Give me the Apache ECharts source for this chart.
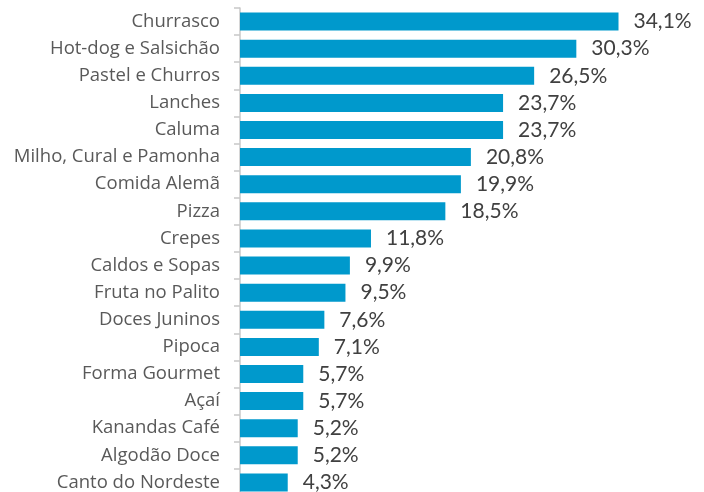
<!DOCTYPE html>
<html>
<head>
<meta charset="utf-8">
<script src="https://cdn.jsdelivr.net/npm/echarts@6/dist/echarts.min.js"></script>
<style>
  html, body { margin: 0; padding: 0; background: #fff; }
  #chart { width: 704px; height: 492px; }
</style>
</head>
<body>
<div id="chart"></div>
<script>
var categories = ['Churrasco', 'Hot-dog e Salsichão', 'Pastel e Churros', 'Lanches', 'Caluma',
  'Milho, Cural e Pamonha', 'Comida Alemã', 'Pizza', 'Crepes', 'Caldos e Sopas',
  'Fruta no Palito', 'Doces Juninos', 'Pipoca', 'Forma Gourmet', 'Açaí',
  'Kanandas Café', 'Algodão Doce', 'Canto do Nordeste'];
var values = [34.1, 30.3, 26.5, 23.7, 23.7, 20.8, 19.9, 18.5, 11.8, 9.9,
  9.5, 7.6, 7.1, 5.7, 5.7, 5.2, 5.2, 4.3];

var chart = echarts.init(document.getElementById('chart'));
var option = {
  animation: false,
  grid: { left: 240, right: 20, top: 8, height: 488, outerBoundsMode: 'none' },
  xAxis: {
    type: 'value',
    min: 0,
    max: 40,
    show: false
  },
  yAxis: {
    type: 'category',
    inverse: true,
    data: categories,
    axisLine: { show: true, lineStyle: { color: '#c8c8c8', width: 1.5 } },
    axisTick: { show: true, length: 6, lineStyle: { color: '#c8c8c8', width: 1.5 } },
    axisLabel: {
      color: '#595959',
      fontSize: 18.5,
      fontFamily: 'Open Sans',
      margin: 20
    }
  },
  series: [{
    type: 'bar',
    data: values,
    barWidth: 18,
    itemStyle: { color: '#0099cc' },
    label: {
      show: true,
      position: 'right',
      distance: 15,
      color: '#404040',
      fontSize: 21,
      fontFamily: 'Lato',
      formatter: function (p) { return p.value.toFixed(1).replace('.', ',') + '%'; }
    }
  }]
};
chart.setOption(option);
</script>
</body>
</html>
